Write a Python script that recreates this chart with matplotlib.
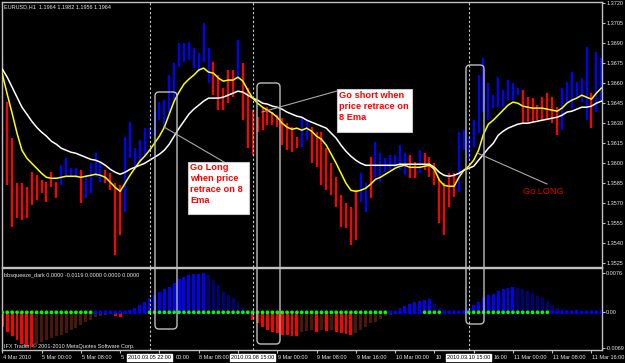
import matplotlib
matplotlib.use("Agg")
import matplotlib.pyplot as plt
from matplotlib import font_manager
from matplotlib.patches import FancyBboxPatch, Rectangle
from matplotlib.transforms import IdentityTransform, blended_transform_factory
from matplotlib.lines import Line2D

# ---------------- data ----------------
symbol_title = "EURUSD,H1  1.1964 1.1982 1.1956 1.1964"
indicator_title = "bbsqueeze_dark 0.0000 -0.0119 0.0000 0.0000 0.0000"
copyright_text = "IFX Trader, \u00a9 2001-2010 MetaQuotes Software Corp."

high = [1.36795, 1.36458, 1.36188, 1.35850, 1.35850, 1.35820, 1.35933, 1.35910, 1.35873, 1.35858,
        1.35933, 1.35858, 1.35985, 1.36038, 1.35963, 1.35963, 1.35948, 1.35910, 1.36000, 1.36075,
        1.36000, 1.35948, 1.35925, 1.35850, 1.35835, 1.36195, 1.36308, 1.36113, 1.36173, 1.36263,
        1.36263, 1.36383, 1.36458, 1.36473, 1.36660, 1.36750, 1.36900, 1.36900, 1.36908, 1.36863,
        1.36825, 1.37050, 1.36863, 1.36758, 1.36660, 1.36563, 1.36698, 1.36698, 1.36923, 1.36750,
        1.36563, 1.36398, 1.36345, 1.36413, 1.36420, 1.36383, 1.36360, 1.36338, 1.36300, 1.36270,
        1.36195, 1.36338, 1.36323, 1.36270, 1.36233, 1.36233, 1.36113, 1.36000, 1.35895, 1.35760,
        1.35700, 1.35670, 1.35798, 1.35925, 1.35850, 1.36045, 1.36158, 1.36075, 1.36038, 1.36060,
        1.36060, 1.36135, 1.36075, 1.36060, 1.36008, 1.36098, 1.36075, 1.36045, 1.36000, 1.35888,
        1.35850, 1.35925, 1.35925, 1.36233, 1.36248, 1.36195, 1.36323, 1.36660, 1.36788, 1.36600,
        1.36510, 1.36645, 1.36548, 1.36623, 1.36600, 1.36563, 1.36548, 1.36495, 1.36488, 1.36435,
        1.36495, 1.36525, 1.36495, 1.36420, 1.36563, 1.36608, 1.36683, 1.36608, 1.36638, 1.36870,
        1.36525, 1.36833, 1.36788]
low = [1.36248, 1.35835, 1.35520, 1.35588, 1.35573, 1.35588, 1.35685, 1.35723, 1.35775, 1.35708,
       1.35820, 1.35738, 1.35835, 1.35895, 1.35895, 1.35888, 1.35700, 1.35738, 1.35775, 1.35895,
       1.35858, 1.35850, 1.35798, 1.35310, 1.35460, 1.35633, 1.36038, 1.35948, 1.36000, 1.36060,
       1.36188, 1.36210, 1.36323, 1.36263, 1.36375, 1.36473, 1.36720, 1.36758, 1.36773, 1.36713,
       1.36683, 1.36758, 1.36600, 1.36510, 1.36398, 1.36398, 1.36450, 1.36495, 1.36623, 1.36323,
       1.36113, 1.36060, 1.36233, 1.36248, 1.36285, 1.36285, 1.36270, 1.36135, 1.36098, 1.36083,
       1.36113, 1.36120, 1.36173, 1.36000, 1.35970, 1.35835, 1.35798, 1.35760, 1.35670, 1.35520,
       1.35513, 1.35385, 1.35423, 1.35708, 1.35633, 1.35738, 1.35895, 1.35858, 1.35933, 1.35948,
       1.35970, 1.35948, 1.35910, 1.35888, 1.35888, 1.35925, 1.35948, 1.35895, 1.35835, 1.35550,
       1.35460, 1.35670, 1.35745, 1.35783, 1.36098, 1.36038, 1.36120, 1.36225, 1.36383, 1.36323,
       1.36413, 1.36420, 1.36420, 1.36473, 1.36473, 1.36510, 1.36300, 1.36308, 1.36308, 1.36323,
       1.36323, 1.36323, 1.36300, 1.36210, 1.36248, 1.36458, 1.36413, 1.36495, 1.36458, 1.36323,
       1.36263, 1.36383, 1.36473]
# U = up bar (blue), D = down bar (red)
direction = ("DDDDDDDDDDDD" "UUUU" "D" "UUUU" "DDDD" "UUUUUUUUUUUUUUUUUU" "DDDDD" "U"
             "DDDDDDDDDDDD" "UU" "DDDDDDDDDD" "UU" "D" "UUUUUUU" "DD" "U" "DDDDDDD"
             "UUUUUUUUUUUUU" "DDDDDDDD" "UUUUUU" "D" "UU")

ema8 = [1.36668, 1.36518, 1.36375, 1.36225, 1.36098, 1.36038, 1.36000, 1.35963, 1.35925, 1.35895,
        1.35888, 1.35888, 1.35895, 1.35903, 1.35903, 1.35903, 1.35895, 1.35903, 1.35910, 1.35918,
        1.35910, 1.35895, 1.35858, 1.35820, 1.35790, 1.35850, 1.35910, 1.35963, 1.36015, 1.36053,
        1.36098, 1.36150, 1.36203, 1.36270, 1.36368, 1.36465, 1.36533, 1.36593, 1.36630, 1.36660,
        1.36698, 1.36713, 1.36683, 1.36675, 1.36638, 1.36615, 1.36623, 1.36623, 1.36645, 1.36615,
        1.36548, 1.36488, 1.36450, 1.36420, 1.36398, 1.36375, 1.36345, 1.36300, 1.36270, 1.36255,
        1.36263, 1.36248, 1.36263, 1.36240, 1.36203, 1.36180, 1.36135, 1.36068, 1.36000, 1.35925,
        1.35850, 1.35798, 1.35790, 1.35798, 1.35813, 1.35843, 1.35880, 1.35895, 1.35918, 1.35940,
        1.35963, 1.35978, 1.35985, 1.35970, 1.35970, 1.35970, 1.35978, 1.35985, 1.35955, 1.35873,
        1.35835, 1.35828, 1.35828, 1.35895, 1.35948, 1.35978, 1.36023, 1.36098, 1.36218, 1.36293,
        1.36323, 1.36360, 1.36398, 1.36435, 1.36458, 1.36450, 1.36428, 1.36420, 1.36413, 1.36413,
        1.36413, 1.36405, 1.36398, 1.36390, 1.36413, 1.36450, 1.36473, 1.36488, 1.36510, 1.36495,
        1.36480, 1.36525, 1.36563]
ema21 = [1.36705, 1.36645, 1.36570, 1.36495, 1.36420, 1.36368, 1.36315, 1.36270, 1.36233, 1.36203,
         1.36165, 1.36143, 1.36113, 1.36098, 1.36083, 1.36075, 1.36060, 1.36045, 1.36030, 1.36023,
         1.36008, 1.35985, 1.35955, 1.35933, 1.35918, 1.35933, 1.35955, 1.35970, 1.35985, 1.36000,
         1.36023, 1.36045, 1.36068, 1.36098, 1.36143, 1.36203, 1.36263, 1.36315, 1.36368, 1.36405,
         1.36435, 1.36465, 1.36488, 1.36488, 1.36488, 1.36495, 1.36510, 1.36525, 1.36540, 1.36533,
         1.36510, 1.36488, 1.36473, 1.36450, 1.36443, 1.36428, 1.36420, 1.36405, 1.36383, 1.36368,
         1.36353, 1.36345, 1.36323, 1.36308, 1.36293, 1.36278, 1.36263, 1.36225, 1.36188, 1.36135,
         1.36090, 1.36053, 1.36023, 1.36000, 1.35985, 1.35985, 1.35985, 1.35985, 1.35985, 1.35985,
         1.35985, 1.35993, 1.35993, 1.35993, 1.35993, 1.35993, 1.35993, 1.35993, 1.35970, 1.35933,
         1.35910, 1.35903, 1.35910, 1.35925, 1.35948, 1.35963, 1.35978, 1.36023, 1.36068, 1.36113,
         1.36150, 1.36210, 1.36240, 1.36263, 1.36278, 1.36293, 1.36300, 1.36300, 1.36308, 1.36315,
         1.36323, 1.36330, 1.36338, 1.36345, 1.36360, 1.36383, 1.36390, 1.36405, 1.36420, 1.36420,
         1.36428, 1.36450, 1.36465]

squeeze_hist = [-0.0028, -0.0038, -0.0047, -0.0054, -0.0062, -0.0066, -0.0067, -0.0062, -0.0057, -0.0054,
                -0.0051, -0.0047, -0.0044, -0.0041, -0.0034, -0.0031, -0.0025, -0.0018, -0.0015, -0.0010,
                -0.0008, -0.0005, -0.0004, -0.0008, -0.0009, -0.0002, 0.0005, 0.0009, 0.0014, 0.0021,
                0.0027, 0.0033, 0.0040, 0.0045, 0.0050, 0.0057, 0.0064, 0.0069, 0.0072, 0.0074,
                0.0075, 0.0076, 0.0073, 0.0063, 0.0053, 0.0040, 0.0034, 0.0027, 0.0021, 0.0011,
                0.0005, -0.0015, -0.0021, -0.0028, -0.0034, -0.0038, -0.0041, -0.0044, -0.0045, -0.0046,
                -0.0047, -0.0039, -0.0037, -0.0034, -0.0038, -0.0034, -0.0036, -0.0034, -0.0038, -0.0041,
                -0.0043, -0.0044, -0.0041, -0.0034, -0.0028, -0.0021, -0.0018, -0.0014, -0.0008, -0.0005,
                -0.0003, 0.0008, 0.0013, 0.0017, 0.0020, 0.0022, 0.0024, 0.0025, 0.0016, 0.0008,
                0.0003, 0.0001, -0.0003, 0.0001, 0.0003, 0.0008, 0.0014, 0.0021, 0.0029, 0.0034,
                0.0036, 0.0042, 0.0045, 0.0047, 0.0049, 0.0048, 0.0045, 0.0041, 0.0037, 0.0032,
                0.0027, 0.0022, 0.0014, 0.0008, 0.0007, 0.0005, 0.0003, 0.0005, 0.0003, 0.0002,
                0.0001, 0.0001, 0.0001]
# 1 = squeeze on (blue dot), 0 = off (green dot)
squeeze_on = ("0000000000000000000" "11111111111" "0000000000000000000000000000000000000000000000000"
              "1111111" "0000" "11111" "00000000000000000" "11111111111")

time_tick_bars = [0, 8, 16, 24, 32, 40, 48, 56, 64, 72, 80, 88, 96, 104, 112, 120]
time_tick_labels = ["4 Mar 2010", "5 Mar 00:00", "5 Mar 08:00", "5 Mar 16:00", "8 Mar 00:00",
                    "8 Mar 08:00", "8 Mar 16:00", "9 Mar 00:00", "9 Mar 08:00", "9 Mar 16:00",
                    "10 Mar 00:00", "10 Mar 08:00", "10 Mar 16:00", "11 Mar 00:00", "11 Mar 08:00",
                    "11 Mar 16:00"]
vline_bars = [30, 51, 95]
vline_labels = ["2010.03.05 22:00", "2010.03.08 15:00", "2010.03.10 15:00"]
price_ticks = [1.3720, 1.3705, 1.3690, 1.3675, 1.3660, 1.3645, 1.3630, 1.3615, 1.3600,
               1.3585, 1.3570, 1.3555, 1.3540, 1.3525]
osc_ticks = [0.0076, 0.0, -0.0069]
osc_tick_labels = ["0.0076", "0.00", "-0.0069"]

note_long = ["Go Long", "when price", "retrace on 8", "Ema"]
note_short = ["Go short when", "price retrace on", "8 Ema"]
note_go_long = "Go LONG"

# ---------------- style ----------------
W, H = 625, 363
names = {f.name for f in font_manager.fontManager.ttflist}
if "Liberation Sans Narrow" in names:
    UI_FONT, UI_SIZE = "Liberation Sans Narrow", 4.8
else:
    UI_FONT, UI_SIZE = "Liberation Sans", 4.0
NOTE_FONT = "Liberation Sans"
FG = "#E8E8E8"
FRAME = "#C0C0C0"

fig = plt.figure(figsize=(W / 100, H / 100), dpi=100, facecolor="black")


def rect(x0, y0, x1, y1):
    return [x0 / W, 1 - y1 / H, (x1 - x0) / W, (y1 - y0) / H]


ax = fig.add_axes(rect(2, 2, 602, 266.5))
axo = fig.add_axes(rect(2, 267.5, 602, 350))
n = len(high)
xs = list(range(n))
xlim = (-0.06, 122.14)

for a in (ax, axo):
    a.set_facecolor("black")
    a.set_xlim(*xlim)
    for s in a.spines.values():
        s.set_color(FRAME)
        s.set_linewidth(1.0)

# price bars
bar_cols = ["#0000FF" if d == "U" else "#FF0000" for d in direction]
ax.vlines(xs, low, high, colors=bar_cols, linewidth=1.6, zorder=2)
ax.plot(xs, ema21, color="#FFFFFF", lw=1.1, zorder=3)
ax.plot(xs, ema8, color="#FFFF00", lw=1.1, zorder=4)
ax.set_ylim(1.352275, 1.372075)
ax.set_xticks([])
ax.yaxis.tick_right()
ax.set_yticks(price_ticks)
ax.set_yticklabels([f"{v:.4f}" for v in price_ticks])
ax.tick_params(axis="y", colors=FRAME, labelcolor=FG, length=2, width=0.8, pad=1,
               labelsize=UI_SIZE)
for t in ax.get_yticklabels():
    t.set_fontfamily(UI_FONT)

# oscillator
hcols = []
for k, v in enumerate(squeeze_hist):
    prev = squeeze_hist[k - 1] if k else v
    if v >= 0:
        hcols.append("#0000FF" if v >= prev else "#00007A")
    else:
        hcols.append("#FF0000" if v <= prev else "#4A180A")
axo.bar(xs, squeeze_hist, width=0.6, color=hcols, zorder=2)
dot_cols = ["#0000FF" if c == "1" else "#00FF00" for c in squeeze_on]
axo.scatter(xs, [0.0] * n, s=7, c=dot_cols, linewidths=0, zorder=3)
axo.set_ylim(-0.00735, 0.00874)
axo.yaxis.tick_right()
axo.set_yticks(osc_ticks)
axo.set_yticklabels(osc_tick_labels)
axo.tick_params(axis="y", colors=FRAME, labelcolor=FG, length=2, width=0.8, pad=1,
                labelsize=UI_SIZE)
for t in axo.get_yticklabels():
    t.set_fontfamily(UI_FONT)
axo.set_xticks(time_tick_bars)
axo.set_xticklabels([])
axo.tick_params(axis="x", colors=FRAME, length=2, width=0.8)

# vertical dashed lines
for a in (ax, axo):
    for b in vline_bars:
        a.axvline(b, color="#C8C8C8", lw=0.8, ls=(0, (2, 2)), zorder=5)

# time axis labels (drawn as texts so that the highlighted labels can occlude them)
tb = blended_transform_factory(axo.transData, axo.transAxes)
LABEL_Y = -0.088
hl_texts = []
for b, lab in zip(vline_bars, vline_labels):
    hl_texts.append(axo.text(b, LABEL_Y, lab, transform=tb, ha="center", va="center",
                             color="black", fontsize=UI_SIZE, family=UI_FONT, clip_on=False,
                             zorder=10,
                             bbox=dict(boxstyle="square,pad=0.15", facecolor="white",
                                       edgecolor="white")))
time_texts = []
for b, lab in zip(time_tick_bars, time_tick_labels):
    time_texts.append(axo.text(b + 0.15, LABEL_Y, lab, transform=tb, ha="left", va="center",
                               color=FG, fontsize=UI_SIZE, family=UI_FONT, clip_on=False,
                               zorder=9))

fig.canvas.draw()
rend = fig.canvas.get_renderer()
hl_boxes = [t.get_bbox_patch().get_window_extent(rend) for t in hl_texts]
for t in time_texts:
    e = t.get_window_extent(rend)
    for bx in hl_boxes:
        if e.x1 <= bx.x0 or e.x0 >= bx.x1:
            continue
        words = t.get_text().split(" ")
        keep = ""
        if e.x0 < bx.x0:
            for k in range(len(words), 0, -1):
                cand = " ".join(words[:k])
                t.set_text(cand)
                if t.get_window_extent(rend).x1 < bx.x0 - 1:
                    keep = cand
                    break
        else:
            x_end = axo.transData.inverted().transform((e.x1, 0))[0]
            t.set_ha("right")
            t.set_x(x_end)
            for k in range(1, len(words)):
                cand = " ".join(words[k:])
                t.set_text(cand)
                if t.get_window_extent(rend).x0 > bx.x1 + 1:
                    keep = cand
                    break
        t.set_text(keep)
        break

# panel texts
fig.text(4 / W, 1 - 6.5 / H, symbol_title, color=FG, fontsize=UI_SIZE, family=UI_FONT,
         va="center", ha="left")
fig.text(4 / W, 1 - 275 / H, indicator_title, color=FG, fontsize=UI_SIZE, family=UI_FONT,
         va="center", ha="left")
fig.text(4 / W, 1 - 346.5 / H, copyright_text, color=FG, fontsize=UI_SIZE, family=UI_FONT,
         va="center", ha="left")

# rounded highlight boxes (pixel coordinates, top-left origin)
for (x0, y0, x1, y1) in [(155, 92, 177, 329), (257, 83, 280, 344), (466, 65, 484, 324)]:
    fig.add_artist(FancyBboxPatch((x0, H - y1), x1 - x0, y1 - y0,
                                  boxstyle="round,pad=0,rounding_size=4",
                                  transform=IdentityTransform(), fill=False,
                                  edgecolor="#BEBEBE", lw=1.0, zorder=20))

# pointer lines
for (x0, y0, x1, y1) in [(164, 127, 224, 162), (262, 112, 337, 91), (477, 153, 547, 184)]:
    fig.add_artist(Line2D([x0, x1], [H - y0, H - y1], transform=IdentityTransform(),
                          color="#A8A8A8", lw=0.8, zorder=21))

# note boxes
for (x0, y0, x1, y1) in [(188, 162, 249, 214), (337, 89, 412, 132)]:
    fig.add_artist(Rectangle((x0, H - y1), x1 - x0, y1 - y0, transform=IdentityTransform(),
                             facecolor="white", edgecolor="#C8C8C8", lw=0.8, zorder=22))
for line, yc in zip(note_long, [167, 178.5, 189.5, 200.5]):
    fig.text(190 / W, 1 - yc / H, line, color="#FF0000", fontsize=6.7, weight="bold",
             family=NOTE_FONT, va="center", ha="left", zorder=23)
for line, yc in zip(note_short, [95.5, 106.5, 117.5]):
    fig.text(339 / W, 1 - yc / H, line, color="#FF0000", fontsize=6.7, weight="bold",
             family=NOTE_FONT, va="center", ha="left", zorder=23)
fig.text(523 / W, 1 - 191 / H, note_go_long, color="#E00000", fontsize=6.6,
         family=NOTE_FONT, va="center", ha="left", zorder=23)

fig.savefig("out.png", dpi=100, facecolor="black")
